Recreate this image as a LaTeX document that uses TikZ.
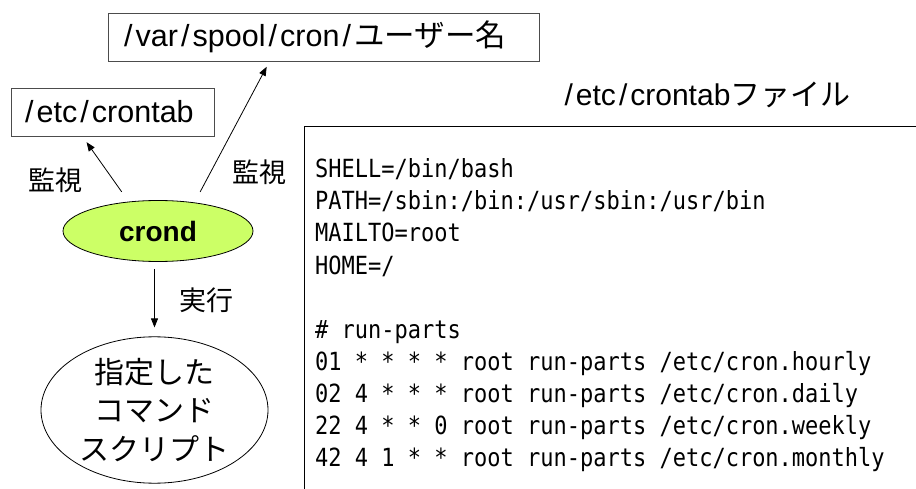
\documentclass[tikz,border=0pt]{standalone}
\usepackage{fontspec}
\setmainfont{Liberation Sans}
\newfontfamily\jpfont{Noto Sans CJK JP}
\newfontfamily\codefont[FakeStretch=0.88]{DejaVu Sans Mono}
\usetikzlibrary{arrows.meta,shapes.geometric}
% wide solidus, as in the proportional gothic used for paths
\newcommand\wsl{\makebox[0.48em]{/}}

\begin{document}
\begin{tikzpicture}[x=1pt,y=-1pt,
  pathbox/.style={draw=black!70,line width=0.9pt,inner ysep=0pt,
    minimum height=48pt,align=left,font=\fontsize{30.5}{36}\selectfont},
  lbl/.style={inner sep=0pt,font=\jpfont\fontsize{27}{30}\selectfont},
  arr/.style={-{Triangle[length=9pt,width=7pt]},line width=0.8pt},
  codeline/.style={anchor=base west,inner sep=0pt,
    font=\codefont\fontsize{25}{32}\selectfont}]
\useasboundingbox (0,0) rectangle (916,489);
\fill[white] (0,0) rectangle (916,489);
\clip (0,0) rectangle (916,489);

% watched files
\node[pathbox,inner xsep=13pt,text width=405pt] (var) at (323.5,37)
  {\wsl var\wsl spool\wsl cron\wsl{\jpfont ユーザー名}};
\node[pathbox,inner xsep=11pt,text width=181pt] (etc) at (112.5,112)
  {\wsl etc\wsl crontab};

% the daemon and what it starts
\node[ellipse,draw=black,line width=0.8pt,fill={rgb,255:red,204;green,255;blue,102},
  minimum width=190pt,minimum height=61pt,inner sep=0pt,
  font=\bfseries\fontsize{28}{30}\selectfont] (crond) at (158,231) {crond};
\node[ellipse,draw=black,line width=0.8pt,minimum width=227pt,minimum height=143pt,
  inner sep=0pt,align=center,font=\jpfont\fontsize{30}{38.5}\selectfont]
  (script) at (154.5,410) {指定した\\コマンド\\スクリプト};

% connectors
\draw[arr,shorten <=12pt,shorten >=7pt] (crond.135) -- ([xshift=-30pt]etc.south);
\draw[arr,shorten <=12pt,shorten >=6pt] (crond.38) -- ([xshift=-54pt]var.south);
\draw[arr,shorten <=7pt,shorten >=9pt] (crond.south -| script.north) -- (script.north);

\node[lbl] (watch1) at (55,180) {監視};
\node[lbl] (watch2) at (259,172) {監視};
\node[lbl] (exec) at (206,300) {実行};

% the system crontab listing
\node[inner sep=0pt,font=\fontsize{30}{36}\selectfont] (title) at (706,95)
  {\wsl etc\wsl crontab{\jpfont ファイル}};
\node[draw=black,line width=1.3pt,anchor=north west,minimum width=700pt,
  minimum height=450pt] (listing) at (304,126) {};

\node[codeline] (l1) at (315,178) {SHELL=/bin/bash};
\node[codeline] (l2) at (315,210) {PATH=/sbin:/bin:/usr/sbin:/usr/bin};
\node[codeline] (l3) at (315,242) {MAILTO=root};
\node[codeline] (l4) at (315,274) {HOME=/};
\node[codeline] (l5) at (315,338) {\# run-parts};
\node[codeline] (l6) at (315,370) {01 * * * * root run-parts /etc/cron.hourly};
\node[codeline] (l7) at (315,402) {02 4 * * * root run-parts /etc/cron.daily};
\node[codeline] (l8) at (315,434) {22 4 * * 0 root run-parts /etc/cron.weekly};
\node[codeline] (l9) at (315,466) {42 4 1 * * root run-parts /etc/cron.monthly};
\end{tikzpicture}
\end{document}
